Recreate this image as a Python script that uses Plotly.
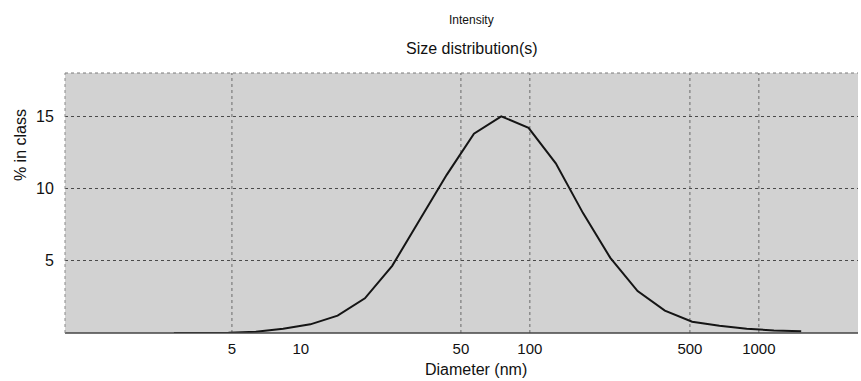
import plotly.graph_objects as go

# Data (diameter in nm, % in class)
diameter_nm = [2.79, 3.68, 4.83, 6.36, 8.37, 11.0, 14.47, 19.04, 25.05, 32.95,
               43.34, 57.0, 75.0, 98.7, 129.8, 170.7, 224.6, 295.5, 388.7,
               511.3, 672.7, 885.0, 1164, 1531]
percent_in_class = [0.0, 0.0, 0.02, 0.08, 0.3, 0.6, 1.2, 2.4, 4.65, 7.8,
                    10.95, 13.8, 15.0, 14.2, 11.75, 8.3, 5.2, 2.9, 1.55,
                    0.78, 0.5, 0.3, 0.18, 0.12]

x_tick_vals = [5, 10, 50, 100, 500, 1000]
x_tick_text = ["5", "10", "50", "100", "500", "1000"]
x_grid_vals = [5, 50, 100, 500, 1000]
y_tick_vals = [5, 10, 15]

FONT = "Liberation Sans, Arial, sans-serif"

fig = go.Figure()
fig.add_trace(go.Scatter(
    x=diameter_nm, y=percent_in_class, mode="lines",
    line=dict(color="#151515", width=2), showlegend=False, hoverinfo="skip",
))

shapes = []
for v in x_grid_vals:
    shapes.append(dict(type="line", xref="x", yref="paper", x0=v, x1=v, y0=0, y1=1,
                       line=dict(color="#6a6a6a", width=1, dash="dot"), layer="below"))
# bottom, top and left frame lines
shapes.append(dict(type="line", xref="paper", yref="paper", x0=0, x1=1, y0=0, y1=0,
                   line=dict(color="#444444", width=1.5)))
shapes.append(dict(type="line", xref="paper", yref="paper", x0=0, x1=1, y0=1, y1=1,
                   line=dict(color="#7a7a7a", width=1, dash="dot")))
shapes.append(dict(type="line", xref="paper", yref="paper", x0=0, x1=0, y0=0, y1=1,
                   line=dict(color="#8a8a8a", width=1, dash="dot")))

fig.update_layout(
    width=861, height=381, autosize=False,
    margin=dict(l=65, r=3, t=73, b=48, autoexpand=False),
    paper_bgcolor="white",
    plot_bgcolor="#d2d2d2",
    font=dict(family=FONT, color="#111111", size=16),
    shapes=shapes,
    xaxis=dict(
        type="log", range=[-0.03, 3.433],
        tickvals=x_tick_vals, ticktext=x_tick_text,
        showgrid=False, zeroline=False, showline=False,
        ticks="outside", ticklen=2, tickcolor="rgba(0,0,0,0)",
        tickfont=dict(size=15, family=FONT), automargin=False,
    ),
    yaxis=dict(
        range=[0, 18], tickvals=y_tick_vals,
        showgrid=True, gridcolor="#4a4a4a", griddash="dot", gridwidth=1,
        zeroline=False, showline=False,
        ticks="outside", ticklen=7, tickcolor="rgba(0,0,0,0)",
        tickfont=dict(size=16, family=FONT), automargin=False,
    ),
    annotations=[
        dict(text="Intensity", xref="paper", yref="paper", x=0.513, y=1.204,
             xanchor="center", yanchor="middle",
             showarrow=False, font=dict(size=12, family=FONT)),
        dict(text="Size distribution(s)", xref="paper", yref="paper", x=0.513, y=1.096,
             xanchor="center", yanchor="middle",
             showarrow=False, font=dict(size=16, family=FONT)),
        dict(text="Diameter (nm)", xref="paper", yref="paper", x=0.518, y=-0.142,
             xanchor="center", yanchor="middle",
             showarrow=False, font=dict(size=16, family=FONT)),
        dict(text="% in class", xref="paper", yref="paper", x=-0.0567, y=0.723,
             xanchor="center", yanchor="middle",
             textangle=-90, showarrow=False, font=dict(size=16, family=FONT)),
    ],
)

fig.write_html("out.html", config={"responsive": False, "displayModeBar": False},
               post_script="document.body.style.margin='0px';")
